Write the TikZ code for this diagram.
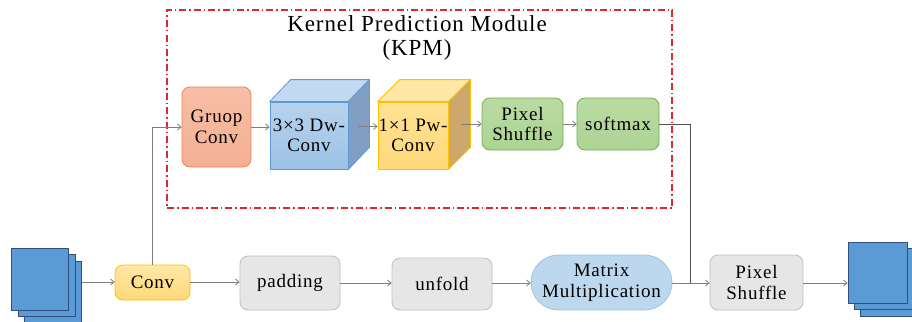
\documentclass[tikz,border=0pt]{standalone}
\usepackage{fontspec}
\setmainfont{Liberation Serif}[LetterSpace=4]
\usetikzlibrary{arrows.meta,calc,shapes.misc}
\definecolor{conncol}{HTML}{7F7F7F}
\definecolor{darkconn}{HTML}{505050}
\definecolor{kpmred}{HTML}{E0262E}
\definecolor{orfill}{HTML}{F4B093}
\definecolor{orfilltop}{HTML}{F7BEA6}
\definecolor{orline}{HTML}{EE8350}
\definecolor{blfront}{HTML}{9DC2E6}
\definecolor{bltop}{HTML}{C2D9F0}
\definecolor{blside}{HTML}{819FC2}
\definecolor{blline}{HTML}{5B9BD5}
\definecolor{yefront}{HTML}{FFD97A}
\definecolor{yetop}{HTML}{FFE7A6}
\definecolor{yeside}{HTML}{CDA86C}
\definecolor{yeline}{HTML}{FFC000}
\definecolor{grfill}{HTML}{ADD394}
\definecolor{grfilltop}{HTML}{BADBA3}
\definecolor{grline}{HTML}{70AD47}
\definecolor{gyfill}{HTML}{E7E6E6}
\definecolor{gyline}{HTML}{BFBFBF}
\definecolor{mmfill}{HTML}{BDD7EE}
\definecolor{mmline}{HTML}{9DC3E6}
\definecolor{stfill}{HTML}{5B9BD5}
\definecolor{stline}{HTML}{2F4F7F}
\begin{document}
\begin{tikzpicture}[x=1pt,y=-1pt,
  conn/.style={draw=conncol, line width=0.8pt},
  arr/.style={conn, -{Straight Barb[length=3.5pt,width=6pt]}},
  box/.style={rounded corners=8pt, line width=0.8pt, align=center,
    font=\fontsize{19}{20.5}\selectfont, inner sep=0pt},
  orbox/.style={box, draw=orline, top color=orfilltop, bottom color=orfill},
  grbox/.style={box, draw=grline, top color=grfilltop, bottom color=grfill},
  gybox/.style={box, draw=gyline, fill=gyfill},
  yebox/.style={box, draw=yeline, top color=yetop, bottom color=yefront},
  cubeface/.style={line width=0.8pt, align=center,
    font=\fontsize{19}{20.5}\selectfont, inner sep=0pt},
  stackbox/.style={draw=stline, fill=stfill, line width=0.8pt,
    minimum width=57pt, minimum height=62pt, inner sep=0pt},
  kpmbox/.style={draw=kpmred, line width=1.2pt,
    dash pattern=on 7pt off 3pt on 1.5pt off 3pt, inner sep=0pt}
]
\useasboundingbox (0,0) rectangle (912,321);

% KPM frame and title
\node[kpmbox, minimum width=505pt, minimum height=198pt] (kpm) at (419.5,109) {};
\node[font=\fontsize{23}{23.5}\selectfont, align=center] (title) at (417,38)
  {Kernel Prediction Module\\(KPM)};

% Gruop Conv
\node[orbox, minimum width=69pt, minimum height=80pt] (gruop) at (216.5,127) {Gruop\\Conv};

% 3x3 Dw-Conv cube
\node[cubeface, draw=blline, top color=bltop!70!blfront, bottom color=blfront,
  minimum width=78pt, minimum height=67pt] (dw) at (309,135.5) {3×3 Dw-\\Conv};
\filldraw[draw=blline, fill=bltop, line width=0.8pt, line join=round]
  (dw.north west) -- ($(dw.north west)+(21,-22)$) -- ($(dw.north east)+(21,-22)$)
  -- (dw.north east) -- cycle;
\filldraw[draw=blline, fill=blside, line width=0.8pt, line join=round]
  (dw.north east) -- ($(dw.north east)+(21,-22)$) -- ($(dw.south east)+(21,-22)$)
  -- (dw.south east) -- cycle;

% 1x1 Pw-Conv cube
\node[cubeface, draw=yeline, top color=yetop!60!yefront, bottom color=yefront,
  minimum width=70pt, minimum height=67pt] (pw) at (413,135.5) {1×1 Pw-\\Conv};
\filldraw[draw=yeline, fill=yetop, line width=0.8pt, line join=round]
  (pw.north west) -- ($(pw.north west)+(22,-22)$) -- ($(pw.north east)+(22,-22)$)
  -- (pw.north east) -- cycle;
\filldraw[draw=yeline, fill=yeside, line width=0.8pt, line join=round]
  (pw.north east) -- ($(pw.north east)+(22,-22)$) -- ($(pw.south east)+(22,-22)$)
  -- (pw.south east) -- cycle;

% Pixel Shuffle and softmax (green)
\node[grbox, minimum width=81pt, minimum height=52pt] (ps1) at (522.5,124) {Pixel\\Shuffle};
\node[grbox, minimum width=82pt, minimum height=52pt] (soft) at (618,124) {softmax};

% bottom row
\node[stackbox] (in3) at (53,292) {};
\node[stackbox] (in2) at (46.5,285) {};
\node[stackbox] (in1) at (40,279) {};
\node[yebox, minimum width=75pt, minimum height=35pt] (conv) at (152.5,282.5) {Conv};
\node[gybox, minimum width=100pt, minimum height=54pt] (pad) at (290,283) {padding};
\node[gybox, minimum width=100pt, minimum height=52pt] (unf) at (442,284) {unfold};
\node[rounded rectangle, draw=mmline, fill=mmfill, line width=0.8pt, align=center,
  font=\fontsize{19}{20.5}\selectfont, inner sep=0pt,
  minimum width=141pt, minimum height=55pt] (mm) at (601.5,282.5) {Matrix\\Multiplication};
\node[gybox, minimum width=93pt, minimum height=55pt] (ps2) at (756.5,282.5) {Pixel\\Shuffle};
\node[stackbox, minimum width=59pt, minimum height=61pt] (out3) at (889.5,285.5) {};
\node[stackbox, minimum width=59pt, minimum height=61pt] (out2) at (883.5,279) {};
\node[stackbox, minimum width=59pt, minimum height=61pt] (out1) at (877.5,272.5) {};

% connectors
\draw[arr] (in3.east |- 0,282) -- (conv.west |- 0,282);
\draw[arr] (conv.east |- 0,282) -- (pad.west |- 0,282);
\draw[arr] (pad.east |- 0,283) -- (unf.west |- 0,283);
\draw[arr] (unf.east |- 0,283) -- (mm.west |- 0,283);
\draw[arr] (mm.east |- 0,283) -- (ps2.west |- 0,283);
\draw[arr] (ps2.east |- 0,283) -- (out1.west |- 0,283);
\draw[arr] (conv.north) |- (gruop.west);
\draw[arr] (gruop.east) -- (dw.west |- gruop.east);
\draw[arr] ($(dw.east)+(10,-9)$) -- (pw.west |- 0,126.5);
\draw[arr] ($(pw.east)+(13,-11.5)$) -- (ps1.west);
\draw[arr] (ps1.east) -- (soft.west);
\coordinate (join) at (690,283);
\draw[draw=darkconn, line width=0.8pt] (soft.east) -| (join);
\end{tikzpicture}
\end{document}
